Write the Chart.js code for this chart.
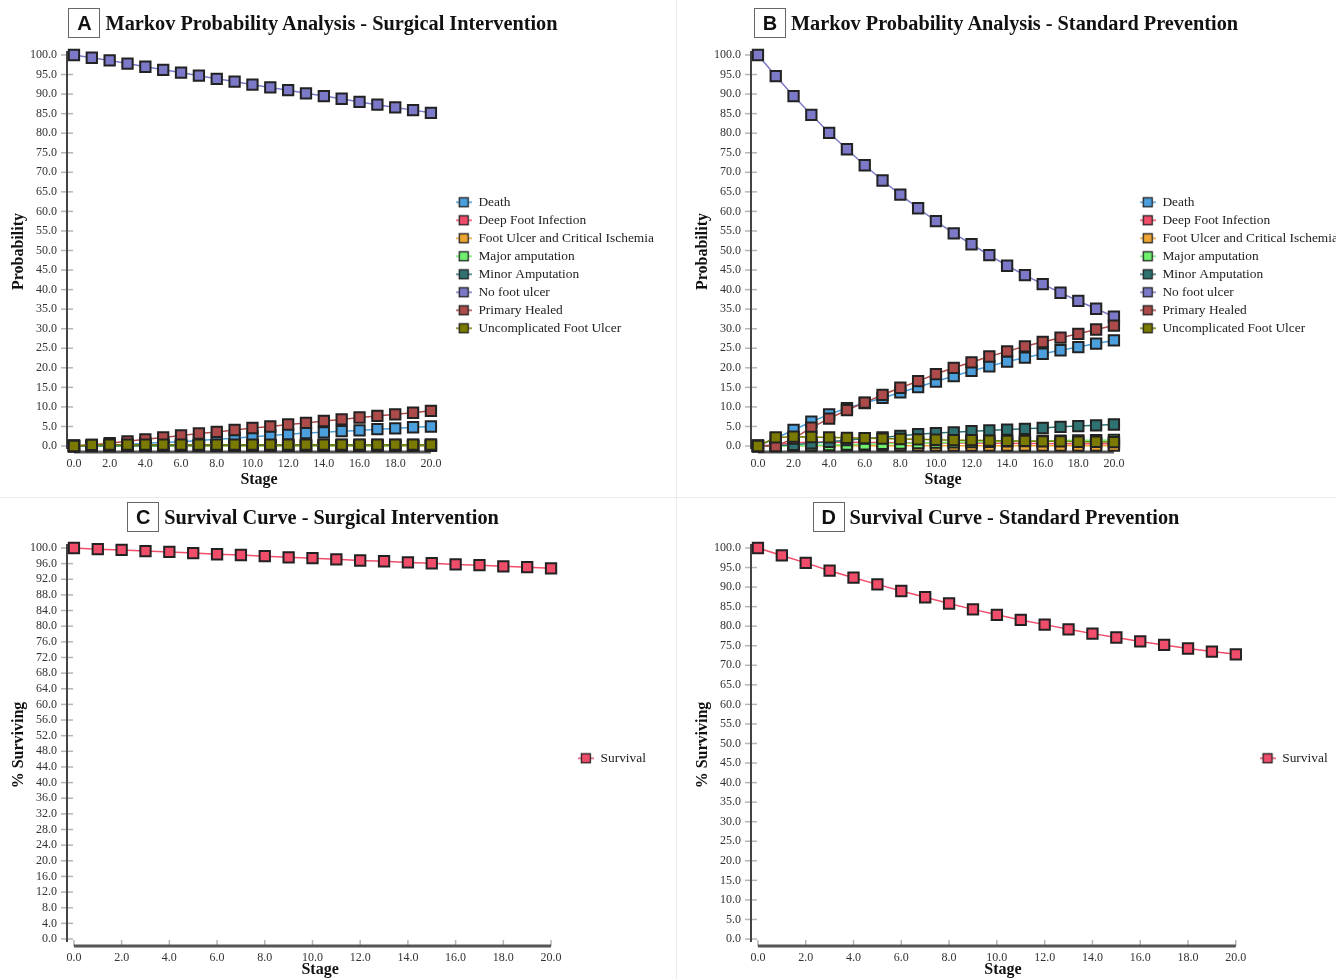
<!DOCTYPE html>
<html><head><meta charset="utf-8">
<script src="https://cdn.jsdelivr.net/npm/chart.js@4.4.1/dist/chart.umd.min.js"></script>
<style>
html,body{margin:0;padding:0;background:#fff;}
body{width:1336px;height:979px;overflow:hidden;position:relative;}
.title{position:absolute;display:flex;align-items:center;justify-content:center;font-family:"Liberation Serif","Times New Roman",serif;font-weight:bold;font-size:20.3px;color:#111;white-space:nowrap;}
.badge{display:inline-block;box-sizing:border-box;border:1px solid #666;font-family:"Liberation Sans",Arial,sans-serif;font-weight:bold;font-size:20px;width:32px;height:30px;line-height:28px;text-align:center;margin-right:5px;}
.vdiv{position:absolute;left:676px;top:0;width:1px;height:979px;background:#ececec;}
.hdiv{position:absolute;left:0;top:497px;width:1336px;height:1px;background:#ececec;}
canvas{position:absolute;}
</style></head>
<body>
<div class="vdiv"></div><div class="hdiv"></div>
<canvas id="cA" width="676" height="497" style="left:0;top:0"></canvas>
<canvas id="cB" width="676" height="497" style="left:677px;top:0"></canvas>
<canvas id="cC" width="676" height="482" style="left:0;top:497px"></canvas>
<canvas id="cD" width="676" height="482" style="left:677px;top:497px"></canvas>
<div class="title" style="left:0;top:8px;width:626px;height:30px"><span class="badge">A</span><span>Markov Probability Analysis - Surgical Intervention</span></div>
<div class="title" style="left:683px;top:8px;width:626px;height:30px"><span class="badge">B</span><span>Markov Probability Analysis - Standard Prevention</span></div>
<div class="title" style="left:0;top:502px;width:626px;height:30px"><span class="badge">C</span><span>Survival Curve - Surgical Intervention</span></div>
<div class="title" style="left:683px;top:502px;width:626px;height:30px"><span class="badge">D</span><span>Survival Curve - Standard Prevention</span></div>
<script>
// ---- data ----
const stages = [0,1,2,3,4,5,6,7,8,9,10,11,12,13,14,15,16,17,18,19,20];
const xTickValues = [0,2,4,6,8,10,12,14,16,18,20];
const yTicksProbability = [0,5,10,15,20,25,30,35,40,45,50,55,60,65,70,75,80,85,90,95,100];
const yTicksSurvivalC = [0,4,8,12,16,20,24,28,32,36,40,44,48,52,56,60,64,68,72,76,80,84,88,92,96,100];
const yTicksSurvivalD = [0,5,10,15,20,25,30,35,40,45,50,55,60,65,70,75,80,85,90,95,100];

const stateNames = ['Death','Deep Foot Infection','Foot Ulcer and Critical Ischemia','Major amputation','Minor Amputation','No foot ulcer','Primary Healed','Uncomplicated Foot Ulcer'];

// Panel A - Surgical Intervention
const deathA        = [0,0.1,0.2,0.4,0.7,0.9,1.1,1.4,1.7,2.0,2.4,2.7,3.0,3.3,3.5,3.8,4.0,4.3,4.5,4.8,5.0];
const deepInfA      = [0,0.05,0.08,0.1,0.1,0.1,0.1,0.1,0.1,0.1,0.1,0.1,0.1,0.1,0.1,0.1,0.1,0.1,0.1,0.1,0.1];
const ulcerCIA      = [0,0.02,0.03,0.03,0.03,0.03,0.03,0.03,0.03,0.03,0.03,0.03,0.03,0.03,0.03,0.03,0.03,0.03,0.03,0.03,0.03];
const majorAmpA     = [0,0,0.01,0.02,0.03,0.04,0.05,0.05,0.06,0.06,0.07,0.07,0.08,0.08,0.09,0.09,0.1,0.1,0.1,0.11,0.11];
const minorAmpA     = [0,0.02,0.05,0.08,0.1,0.12,0.14,0.16,0.18,0.2,0.21,0.22,0.24,0.25,0.26,0.27,0.28,0.29,0.3,0.31,0.32];
const noUlcerA      = [100,99.3,98.6,97.8,97.0,96.2,95.5,94.7,93.9,93.2,92.4,91.7,91.0,90.2,89.5,88.8,88.0,87.3,86.6,85.9,85.2];
const healedA       = [0,0.3,0.7,1.2,1.7,2.2,2.7,3.2,3.6,4.1,4.6,5.0,5.5,5.9,6.4,6.8,7.3,7.7,8.1,8.5,9.0];
const uncompUlcerA  = [0,0.3,0.35,0.35,0.35,0.35,0.35,0.35,0.35,0.35,0.35,0.35,0.35,0.35,0.35,0.35,0.35,0.35,0.35,0.35,0.35];

// Panel B - Standard Prevention
const deathB        = [0,2.0,4.1,6.2,8.1,9.7,11.0,12.3,13.7,15.1,16.5,17.9,19.2,20.4,21.6,22.6,23.6,24.5,25.3,26.2,27.0];
const deepInfB      = [0,0.3,0.8,1.0,1.0,0.95,0.9,0.9,0.85,0.8,0.8,0.75,0.75,0.7,0.7,0.65,0.65,0.6,0.6,0.6,0.55];
const ulcerCIB      = [0,0.05,0.1,0.1,0.1,0.1,0.1,0.1,0.1,0.1,0.1,0.1,0.1,0.1,0.1,0.1,0.1,0.1,0.1,0.1,0.1];
const majorAmpB     = [0,0,0.05,0.15,0.25,0.35,0.45,0.55,0.65,0.75,0.85,0.95,1.0,1.1,1.2,1.25,1.3,1.4,1.45,1.5,1.55];
const minorAmpB     = [0,0.1,0.3,0.7,1.1,1.5,1.9,2.2,2.6,3.0,3.3,3.5,3.8,4.0,4.2,4.4,4.6,4.9,5.1,5.3,5.5];
const noUlcerB      = [100,94.6,89.5,84.7,80.1,75.9,71.8,67.9,64.3,60.8,57.5,54.4,51.6,48.8,46.1,43.7,41.4,39.2,37.1,35.1,33.1];
const healedB       = [0,0,1.9,4.7,7.0,9.2,11.1,13.1,14.9,16.6,18.4,20.0,21.4,22.9,24.2,25.5,26.6,27.7,28.7,29.8,30.8];
const uncompUlcerB  = [0,2.2,2.4,2.3,2.2,2.1,2.0,1.9,1.8,1.7,1.6,1.5,1.5,1.4,1.3,1.3,1.2,1.2,1.1,1.1,1.0];

// Survival curves
const survivalC     = [100,99.7,99.5,99.2,99.0,98.7,98.4,98.2,97.9,97.6,97.4,97.1,96.8,96.6,96.3,96.1,95.8,95.6,95.3,95.1,94.8];
const survivalD     = [100,98.1,96.2,94.2,92.4,90.7,89.0,87.4,85.8,84.3,82.9,81.6,80.4,79.2,78.1,77.1,76.1,75.2,74.3,73.5,72.8];

// ---- styling ----
const SERIF = "'Liberation Serif','Times New Roman',serif";
const stateColors = ['#4a9fdc','#f04d6b','#eea532','#6ff06f','#2f7272','#7b79c8','#ad4b4b','#7a7a00'];
const survivalColor = '#f04d6b';

function legendIcon(color){
  const c = document.createElement('canvas');
  c.width = 16; c.height = 12;
  const g = c.getContext('2d');
  g.strokeStyle = color; g.lineWidth = 1.5;
  g.beginPath(); g.moveTo(0,6); g.lineTo(16,6); g.stroke();
  g.fillStyle = color; g.fillRect(3.5,1.5,9,9);
  g.strokeStyle = '#222'; g.lineWidth = 1.3; g.strokeRect(3.5,1.5,9,9);
  return c;
}

const axisPlugin = {
  id: 'axisDraw',
  beforeDatasetsDraw(chart){
    const {ctx, chartArea, scales:{x, y}} = chart;
    ctx.save();
    ctx.strokeStyle = '#b5b5b5'; ctx.lineWidth = 1.5;
    y.ticks.forEach(t => {
      const py = y.getPixelForValue(t.value);
      ctx.beginPath(); ctx.moveTo(chartArea.left - 6, py); ctx.lineTo(chartArea.left + 6, py); ctx.stroke();
    });
    x.ticks.forEach(t => {
      const px = x.getPixelForValue(t.value);
      ctx.beginPath(); ctx.moveTo(px, chartArea.bottom); ctx.lineTo(px, chartArea.bottom - 6); ctx.stroke();
    });
    ctx.strokeStyle = '#444'; ctx.lineWidth = 2;
    ctx.beginPath(); ctx.moveTo(chartArea.left, chartArea.top); ctx.lineTo(chartArea.left, y.getPixelForValue(0) + 3); ctx.stroke();
    ctx.strokeStyle = '#555'; ctx.lineWidth = 3;
    ctx.beginPath();
    ctx.moveTo(x.getPixelForValue(xTickValues[0]), chartArea.bottom);
    ctx.lineTo(x.getPixelForValue(xTickValues[xTickValues.length-1]), chartArea.bottom);
    ctx.stroke();
    ctx.restore();
  }
};

function makeChart(id, cfg){
  const datasets = cfg.series.map((s, i) => ({
    label: s.name,
    data: stages.map((st, j) => ({x: st, y: s.values[j]})),
    borderColor: s.color, backgroundColor: s.color,
    pointBackgroundColor: s.color, pointBorderColor: '#222', pointBorderWidth: 2,
    pointStyle: 'rect', pointRadius: 7.3, pointHoverRadius: 7.3,
    borderWidth: 1.5, tension: 0, clip: false, order: -i
  }));
  return new Chart(document.getElementById(id), {
    type: 'line',
    data: {datasets},
    options: {
      responsive: false, animation: false, events: [],
      layout: {padding: cfg.padding},
      scales: {
        x: {
          type: 'linear', min: cfg.xMin, max: cfg.xMax,
          afterBuildTicks: sc => { sc.ticks = xTickValues.map(v => ({value: v})); },
          afterFit: sc => { sc.height = cfg.xHeight; },
          grid: {display: false, drawTicks: false}, border: {display: false},
          ticks: {callback: v => Number(v).toFixed(1), padding: 5, color: '#333', font: {family: SERIF, size: 12}, maxRotation: 0, autoSkip: false},
          title: {display: true, text: 'Stage', color: '#111', font: {family: SERIF, size: 16, weight: 'bold'}, padding: {top: 0, bottom: 0}}
        },
        y: {
          type: 'linear', min: cfg.yMin, max: cfg.yMax,
          afterBuildTicks: sc => { sc.ticks = cfg.yTicks.map(v => ({value: v})); },
          afterFit: sc => { sc.width = cfg.yWidth; },
          grid: {display: false, drawTicks: false}, border: {display: false},
          ticks: {callback: v => Number(v).toFixed(1), padding: 10, color: '#333', font: {family: SERIF, size: 12}, autoSkip: false},
          title: {display: true, text: cfg.yTitle, color: '#111', font: {family: SERIF, size: 16, weight: 'bold'}, padding: {top: 9, bottom: 0}}
        }
      },
      plugins: {
        tooltip: {enabled: false},
        legend: {
          position: 'right', align: 'start', maxWidth: 300,
          title: {display: true, text: '', font: {size: 12}, padding: {top: cfg.legendTop, bottom: 0}},
          labels: {
            usePointStyle: true, pointStyleWidth: 16, padding: 4.6, color: '#222',
            font: {family: SERIF, size: 13.4},
            generateLabels: chart => chart.data.datasets.map((ds, i) => ({
              text: ds.label, pointStyle: legendIcon(ds.borderColor), fillStyle: ds.borderColor,
              strokeStyle: ds.borderColor, lineWidth: 0, hidden: false, datasetIndex: i, fontColor: '#222'
            }))
          }
        }
      }
    },
    plugins: [axisPlugin]
  });
}

const seriesA = [deathA, deepInfA, ulcerCIA, majorAmpA, minorAmpA, noUlcerA, healedA, uncompUlcerA]
  .map((v, i) => ({name: stateNames[i], values: v, color: stateColors[i]}));
const seriesB = [deathB, deepInfB, ulcerCIB, majorAmpB, minorAmpB, noUlcerB, healedB, uncompUlcerB]
  .map((v, i) => ({name: stateNames[i], values: v, color: stateColors[i]}));

makeChart('cA', {series: seriesA, padding: {left: 0, top: 51, right: 12.1, bottom: 8}, yWidth: 67, xHeight: 37,
  xMin: -0.39, xMax: 21.13, yMin: -1.53, yMax: 101.02, yTicks: yTicksProbability, yTitle: 'Probability', legendTop: 125.6});
makeChart('cB', {series: seriesB, padding: {left: 7, top: 51, right: 5.1, bottom: 8}, yWidth: 67, xHeight: 37,
  xMin: -0.39, xMax: 21.19, yMin: -1.53, yMax: 101.02, yTicks: yTicksProbability, yTitle: 'Probability', legendTop: 125.6});
makeChart('cC', {series: [{name: 'Survival', values: survivalC, color: survivalColor}], padding: {left: 0, top: 47, right: 20.1, bottom: 0}, yWidth: 67, xHeight: 33,
  xMin: -0.29, xMax: 20.93, yMin: -1.79, yMax: 101.02, yTicks: yTicksSurvivalC, yTitle: '% Surviving', legendTop: 188.6});
makeChart('cD', {series: [{name: 'Survival', values: survivalD, color: survivalColor}], padding: {left: 7, top: 47, right: 15.4, bottom: 0}, yWidth: 67, xHeight: 33,
  xMin: -0.29, xMax: 20.80, yMin: -1.79, yMax: 101.02, yTicks: yTicksSurvivalD, yTitle: '% Surviving', legendTop: 188.6});
</script>
</body></html>
